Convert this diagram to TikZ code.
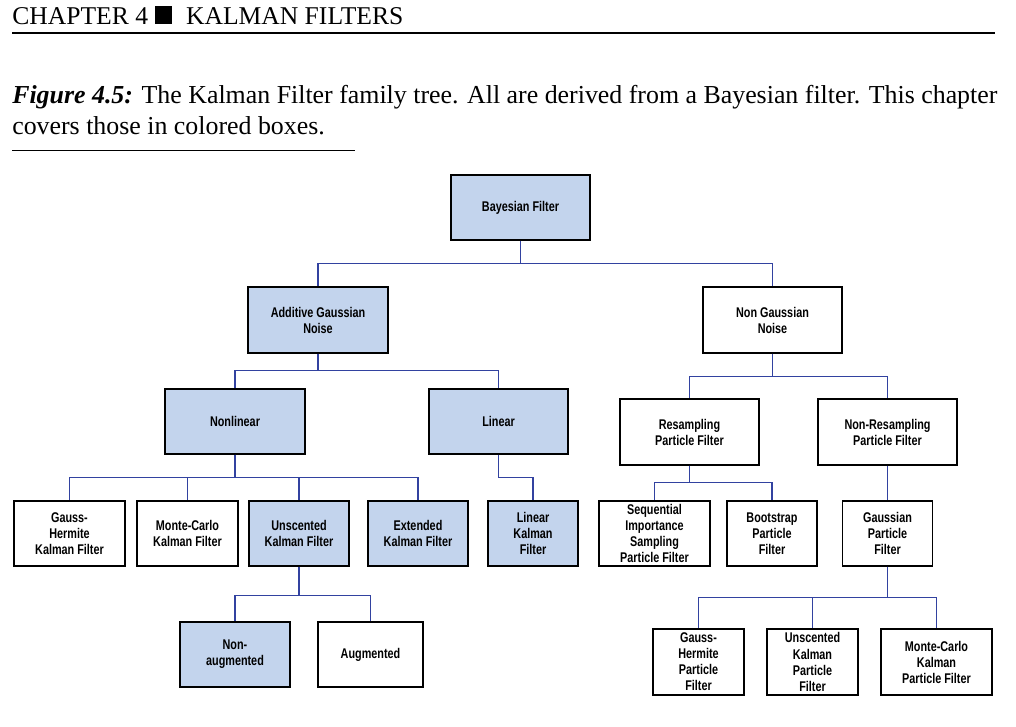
\documentclass[tikz,border=0pt]{standalone}
\usepackage{fontspec}
\setmainfont{Liberation Serif}
\newfontfamily\boxfont[FakeStretch=0.77]{Liberation Sans Bold}
\definecolor{boxblue}{RGB}{195,212,237}
\definecolor{linkblue}{RGB}{50,66,160}

\begin{document}
\begin{tikzpicture}[x=0.025cm,y=-0.025cm,
    box/.style={draw=black,line width=0.95pt,rectangle,inner sep=0pt,align=center,
      font=\boxfont\fontsize{10}{11.4}\selectfont,minimum height=1.625cm},
    cov/.style={box,fill=boxblue},
    drop/.style={to path={(\tikztostart.south) -- ++(0,#1) -| (\tikztotarget.north)}},
    link/.style={draw=linkblue,line width=0.9pt}]
            \useasboundingbox (0,0) rectangle (1016,726);

            % page head and caption
            \node[anchor=base west,inner sep=0pt,font=\fontsize{18.2}{22}\selectfont] (head) at (12,24)
                {CHAPTER 4\hspace{5pt}\rule{12pt}{12.5pt}\hspace{10pt}KALMAN FILTERS};
            \draw[line width=1pt] (12,33) -- (995,33);
            \node[anchor=base west,inner sep=0pt,font=\fontsize{18.4}{22}\selectfont] (cap1) at (12,103)
                {\textbf{\textit{Figure 4.5:}} The Kalman Filter family tree. All are derived from a Bayesian filter. This chapter};
            \node[anchor=base west,inner sep=0pt,font=\fontsize{18.4}{22}\selectfont] (cap2) at (12,134)
                {covers those in colored boxes.};
            \draw[line width=0.7pt] (12,150) -- (355,150);

            % tree
            \node[cov,minimum width=3.475cm] (bf) at (520.5,207.5) {Bayesian Filter};
            \node[cov,minimum width=3.5cm,minimum height=1.65cm] (agn) at (318,320) {Additive Gaussian\\Noise};
            \node[box,minimum width=3.475cm,minimum height=1.65cm] (ngn) at (772.5,320) {Non Gaussian\\Noise};
            \node[cov,minimum width=3.5cm] (nl) at (235,421.5) {Nonlinear};
            \node[cov,minimum width=3.475cm] (lin) at (498.5,421.5) {Linear};
            \node[box,minimum width=3.475cm,minimum height=1.65cm] (rpf) at (689.5,432) {Resampling\\Particle Filter};
            \node[box,minimum width=3.475cm,minimum height=1.65cm] (nrpf) at (887.5,432) {Non-Resampling\\Particle Filter};

            \node[box,minimum width=2.775cm] (ghkf) at (69.5,533.5) {Gauss-\\Hermite\\Kalman Filter};
            \node[box,minimum width=2.525cm] (mckf) at (187.5,533.5) {Monte-Carlo\\Kalman Filter};
            \node[cov,minimum width=2.5cm] (ukf) at (299,533.5) {Unscented\\Kalman Filter};
            \node[cov,minimum width=2.5cm] (ekf) at (418,533.5) {Extended\\Kalman Filter};
            \node[cov,minimum width=2.25cm] (lkf) at (533,533.5) {Linear\\Kalman\\Filter};
            \node[box,minimum width=2.775cm] (sis) at (654.5,533.5) {Sequential\\Importance\\Sampling\\Particle Filter};
            \node[box,minimum width=2.25cm] (bpf) at (772,533.5) {Bootstrap\\Particle\\Filter};
            \node[box,minimum width=2.25cm] (gpf) at (887.5,533.5) {Gaussian\\Particle\\Filter};

            \node[cov,minimum width=2.75cm] (na) at (235,654.5) {Non-\\augmented};
            \node[box,minimum width=2.625cm] (aug) at (370.5,654.5) {Augmented};
            \node[box,minimum width=2.275cm,minimum height=1.65cm] (ghpf) at (698.5,662) {Gauss-\\Hermite\\Particle\\Filter};
            \node[box,minimum width=2.275cm,minimum height=1.65cm] (ukpf) at (812.5,662) {Unscented\\Kalman\\Particle\\Filter};
            \node[box,minimum width=2.775cm,minimum height=1.65cm] (mckpf) at (936.5,662) {Monte-Carlo\\Kalman\\Particle Filter};

            \path [link] (bf) edge[drop=23] (agn);
            \path [link] (bf) edge[drop=23] (ngn);
            \path [link] (agn) edge[drop=17] (nl);
            \path [link] (agn) edge[drop=17] (lin);
            \path [link] (ngn) edge[drop=23] (rpf);
            \path [link] (ngn) edge[drop=23] (nrpf);
            \path [link] (nl) edge[drop=23] (ghkf);
            \path [link] (nl) edge[drop=23] (mckf);
            \path [link] (nl) edge[drop=23] (ukf);
            \path [link] (nl) edge[drop=23] (ekf);
            \path [link] (lin) edge[drop=23] (lkf);
            \path [link] (rpf) edge[drop=17] (sis);
            \path [link] (rpf) edge[drop=17] (bpf);
            \path [link] (nrpf) edge[drop=23] (gpf);
            \path [link] (ukf) edge[drop=29] (na);
            \path [link] (ukf) edge[drop=29] (aug);
            \path [link] (gpf) edge[drop=31] (ghpf);
            \path [link] (gpf) edge[drop=31] (ukpf);
            \path [link] (gpf) edge[drop=31] (mckpf);
        \end{tikzpicture}
\end{document}
